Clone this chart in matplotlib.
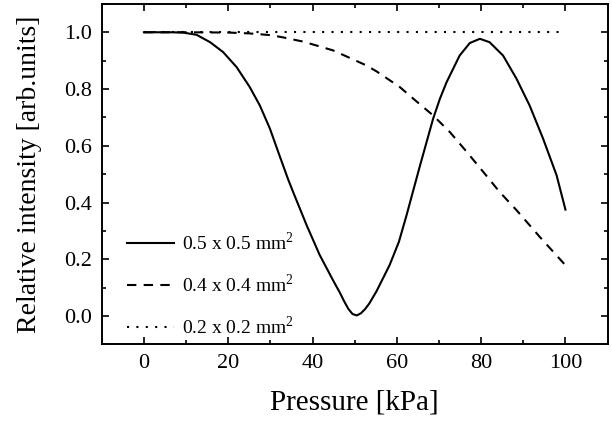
import numpy as np
import matplotlib
matplotlib.use('Agg')
from matplotlib import pyplot as plt
from matplotlib.ticker import MultipleLocator, FormatStrFormatter

# values
p_solid = [0, 6.2, 9.3, 12.5, 15.7, 18.8, 22.0, 25.1, 27.5, 29.9, 32.3, 34.2, 35.4, 38.6,
           41.7, 44.9, 46.5, 47.5, 48.5, 49.5, 50.5, 51.5, 52.5, 53.5, 55.2, 58.3, 60.5, 62.3,
           65.4, 68.6, 70.2, 71.8, 74.9, 77.3, 79.7, 82.0, 85.2, 88.4, 91.5, 94.7, 97.9, 100]
i_solid = [1.0, 1.0, 0.999, 0.991, 0.965, 0.930, 0.877, 0.807, 0.742, 0.660, 0.560, 0.482, 0.437, 0.320,
           0.215, 0.125, 0.082, 0.052, 0.025, 0.007, 0.002, 0.010, 0.025, 0.045, 0.088, 0.180, 0.262, 0.355,
           0.525, 0.695, 0.765, 0.824, 0.918, 0.962, 0.977, 0.965, 0.918, 0.836, 0.742, 0.625, 0.496, 0.375]

p_dash = [0, 10, 20, 25, 30, 33, 37.8, 44.9, 52.8, 55.2, 60.7, 63.9, 68.6, 72.6, 76.5,
          80.5, 84.4, 88.4, 93.9, 100]
i_dash = [1.0, 1.0, 0.999, 0.996, 0.99, 0.982, 0.967, 0.936, 0.883, 0.862, 0.807, 0.766, 0.707, 0.648, 0.580,
          0.508, 0.437, 0.373, 0.279, 0.179]

p_dot = [0, 100]
i_dot = [1.0, 1.0]

labels = ['0.5 x 0.5 mm$^2$', '0.4 x 0.4 mm$^2$', '0.2 x 0.2 mm$^2$']

plt.rcParams['font.family'] = ['Liberation Serif', 'DejaVu Serif']
plt.rcParams['mathtext.fontset'] = 'custom'
plt.rcParams['mathtext.rm'] = 'Liberation Serif'

fig = plt.figure(figsize=(6.12, 4.23), dpi=100)
ax = fig.add_axes([0.1663, 0.1858, 0.8265, 0.805])

ax.plot(p_solid, i_solid, color='black', lw=1.5, ls='-', label=labels[0])
ax.plot(p_dash, i_dash, color='black', lw=1.5, ls=(0, (4.5, 3.5)), label=labels[1])
ax.plot(p_dot, i_dot, color='black', lw=1.5, ls=(0, (1, 3.5)), label=labels[2])

ax.set_xlim(-10, 110)
ax.set_ylim(-0.1, 1.1)
ax.xaxis.set_major_locator(MultipleLocator(20))
ax.xaxis.set_minor_locator(MultipleLocator(10))
ax.yaxis.set_major_locator(MultipleLocator(0.2))
ax.yaxis.set_minor_locator(MultipleLocator(0.1))
ax.yaxis.set_major_formatter(FormatStrFormatter('%.1f'))
ax.tick_params(which='both', direction='in', top=True, right=True, width=1.2, labelsize=16, pad=7)
ax.tick_params(which='major', length=5)
ax.tick_params(which='minor', length=3)
for s in ax.spines.values():
    s.set_linewidth(1.4)

ax.set_xlabel('Pressure [kPa]', fontsize=21, labelpad=12)
ax.set_ylabel('Relative intensity [arb.units]', fontsize=20, labelpad=16)

ax.legend(loc='upper left', bbox_to_anchor=(0.035, 0.355), frameon=False, fontsize=14,
          handlelength=2.4, handletextpad=0.4, labelspacing=1.0, borderaxespad=0)

fig.savefig('out.png', dpi=100)
